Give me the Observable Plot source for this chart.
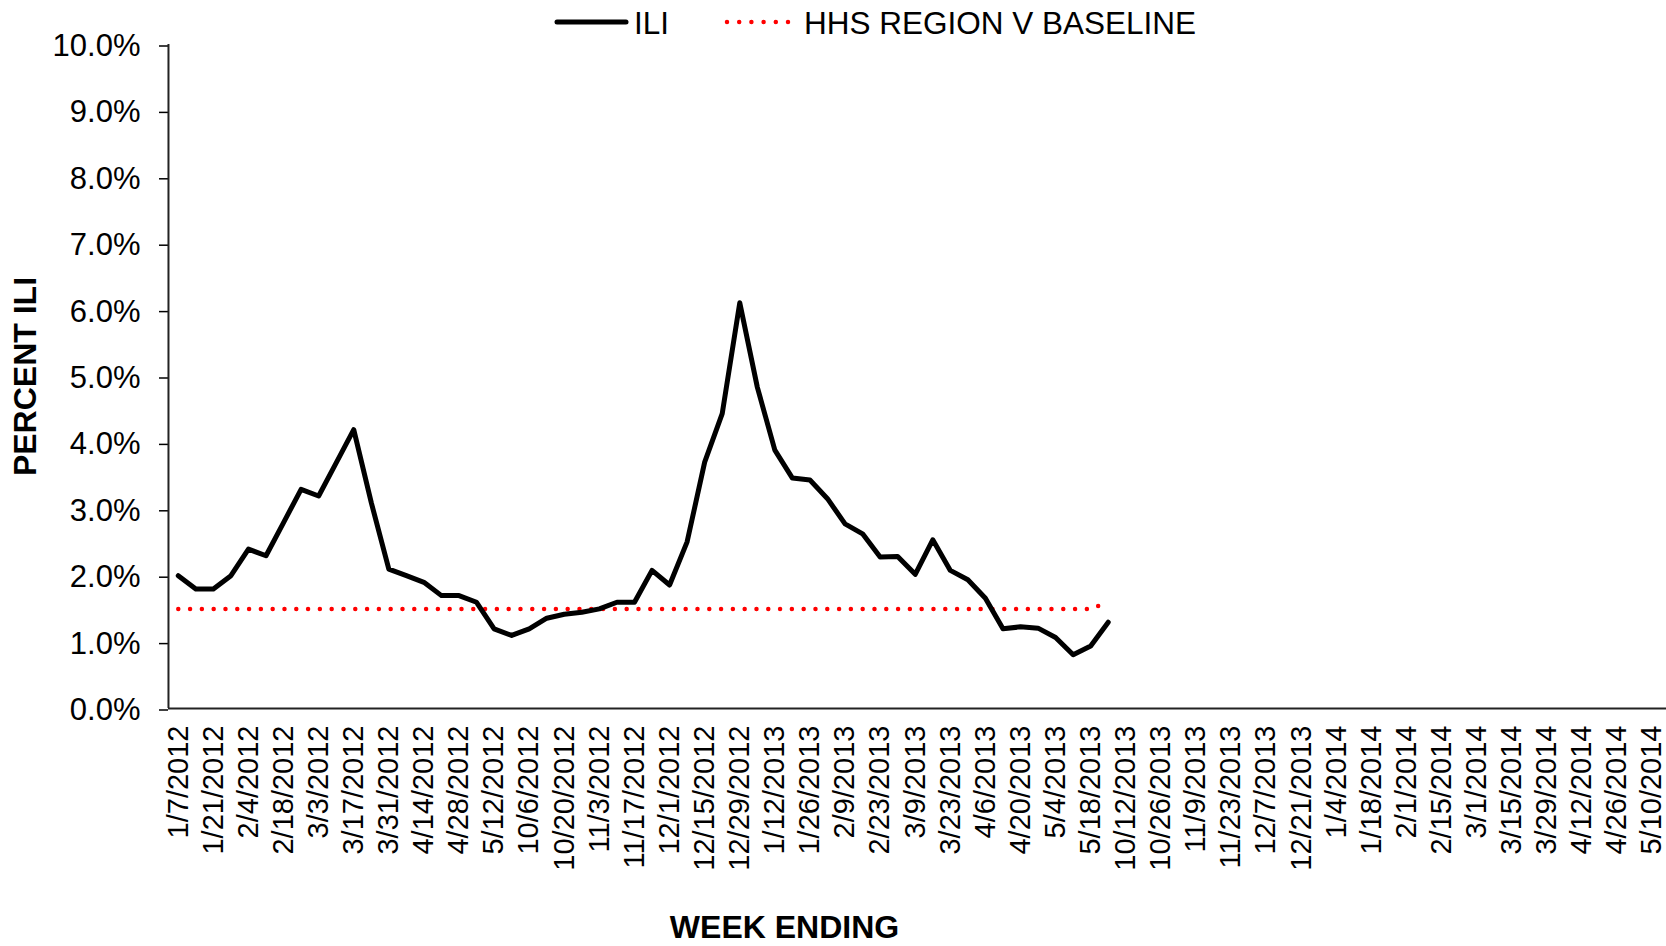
<!DOCTYPE html>
<html>
<head>
<meta charset="utf-8">
<script src="https://cdn.jsdelivr.net/npm/d3@7"></script>
<script src="https://cdn.jsdelivr.net/npm/@observablehq/plot@0.6"></script>
<style>
html, body { margin: 0; padding: 0; background: #fff; overflow: hidden; }
#wrap { position: relative; width: 1666px; height: 946px; font-family: "Liberation Sans", Arial, sans-serif; }
#legend { position: absolute; left: 0; top: 0; }
</style>
</head>
<body>
<div id="wrap">
  <div id="chart"></div>
  <svg id="legend" width="1666" height="44">
    <line x1="557" x2="626" y1="22" y2="22" stroke="#000" stroke-width="5" stroke-linecap="round"></line>
    <text x="634" y="33.5" font-size="31.5" font-family="Liberation Sans, Arial, sans-serif">ILI</text>
    <line x1="727" x2="789" y1="22" y2="22" stroke="#ff0000" stroke-width="4.5" stroke-linecap="round" stroke-dasharray="0 12.2"></line>
    <text x="804" y="33.5" font-size="31.5" font-family="Liberation Sans, Arial, sans-serif">HHS REGION V BASELINE</text>
  </svg>
</div>
<script>
// All weekly categories on the x axis (week ending dates)
const weeks = [
  "1/7/2012","1/14/2012","1/21/2012","1/28/2012","2/4/2012","2/11/2012","2/18/2012","2/25/2012",
  "3/3/2012","3/10/2012","3/17/2012","3/24/2012","3/31/2012","4/7/2012","4/14/2012","4/21/2012",
  "4/28/2012","5/5/2012","5/12/2012","5/19/2012",
  "10/6/2012","10/13/2012","10/20/2012","10/27/2012","11/3/2012","11/10/2012","11/17/2012","11/24/2012",
  "12/1/2012","12/8/2012","12/15/2012","12/22/2012","12/29/2012","1/5/2013","1/12/2013","1/19/2013",
  "1/26/2013","2/2/2013","2/9/2013","2/16/2013","2/23/2013","3/2/2013","3/9/2013","3/16/2013",
  "3/23/2013","3/30/2013","4/6/2013","4/13/2013","4/20/2013","4/27/2013","5/4/2013","5/11/2013",
  "5/18/2013","5/25/2013",
  "10/12/2013","10/19/2013","10/26/2013","11/2/2013","11/9/2013","11/16/2013","11/23/2013","11/30/2013",
  "12/7/2013","12/14/2013","12/21/2013","12/28/2013","1/4/2014","1/11/2014","1/18/2014","1/25/2014",
  "2/1/2014","2/8/2014","2/15/2014","2/22/2014","3/1/2014","3/8/2014","3/15/2014","3/22/2014",
  "3/29/2014","4/5/2014","4/12/2014","4/19/2014","4/26/2014","5/3/2014","5/10/2014","5/17/2014"
];

// Labeled ticks (every other week)
const xTickLabels = [
  "1/7/2012","1/21/2012","2/4/2012","2/18/2012","3/3/2012","3/17/2012","3/31/2012","4/14/2012",
  "4/28/2012","5/12/2012","10/6/2012","10/20/2012","11/3/2012","11/17/2012","12/1/2012","12/15/2012",
  "12/29/2012","1/12/2013","1/26/2013","2/9/2013","2/23/2013","3/9/2013","3/23/2013","4/6/2013",
  "4/20/2013","5/4/2013","5/18/2013","10/12/2013","10/26/2013","11/9/2013","11/23/2013","12/7/2013",
  "12/21/2013","1/4/2014","1/18/2014","2/1/2014","2/15/2014","3/1/2014","3/15/2014","3/29/2014",
  "4/12/2014","4/26/2014","5/10/2014"
];

// Percent ILI, weeks 1/7/2012 .. 5/25/2013
const iliValues = [
  2.0, 1.8, 1.8, 2.0, 2.4, 2.3, 2.8, 3.3, 3.2, 3.7,
  4.2, 3.1, 2.1, 2.0, 1.9, 1.7, 1.7, 1.6, 1.2, 1.1,
  1.2, 1.36, 1.42, 1.45, 1.5, 1.6, 1.6, 2.08, 1.86, 2.51,
  3.71, 4.44, 6.11, 4.84, 3.89, 3.47, 3.44, 3.16, 2.78, 2.63,
  2.28, 2.29, 2.02, 2.54, 2.08, 1.94, 1.66, 1.20, 1.23, 1.21,
  1.07, 0.81, 0.94, 1.30
];

// HHS Region V baseline
const baselineValues = [
  1.5, 1.5, 1.5, 1.5, 1.5, 1.5, 1.5, 1.5, 1.5, 1.5,
  1.5, 1.5, 1.5, 1.5, 1.5, 1.5, 1.5, 1.5, 1.5, 1.5,
  1.5, 1.5, 1.5, 1.5, 1.5, 1.5, 1.5, 1.5, 1.5, 1.5,
  1.5, 1.5, 1.5, 1.5, 1.5, 1.5, 1.5, 1.5, 1.5, 1.5,
  1.5, 1.5, 1.5, 1.5, 1.5, 1.5, 1.5, 1.5, 1.5, 1.5,
  1.5, 1.5, 1.5, 1.6
];

const yTicks = [0, 1, 2, 3, 4, 5, 6, 7, 8, 9, 10];

const iliData = iliValues.map((v, i) => ({week: weeks[i], value: v}));
const baseData = baselineValues.map((v, i) => ({week: weeks[i], value: v}));

const font = "Liberation Sans, Arial, sans-serif";

const chart = Plot.plot({
  width: 1666,
  height: 946,
  marginLeft: 168,
  marginRight: 0,
  marginTop: 44,
  marginBottom: 238,
  style: {fontFamily: font, background: "white", color: "black"},
  x: {type: "point", domain: weeks, range: [169, 1678], padding: 0.5},
  y: {domain: [0, 10]},
  marks: [
    Plot.axisY({
      ticks: yTicks, tickSize: 9, tickPadding: 19, fontSize: 31, dy: 1.5,
      tickFormat: d => d.toFixed(1) + "%", label: null, strokeWidth: 1.5
    }),
    Plot.axisX({
      ticks: xTickLabels, tickSize: 0, tickRotate: -90, tickPadding: 17,
      fontSize: 29, label: null
    }),
    Plot.ruleY([0], {stroke: "#222", strokeWidth: 2}),
    Plot.ruleX([weeks[0]], {y1: 0, y2: 10, dx: -9.8, stroke: "#222", strokeWidth: 2}),
    Plot.line(baseData, {
      x: "week", y: "value", stroke: "#ff0000", strokeWidth: 4.5,
      strokeDasharray: "0 11.8", strokeLinecap: "round"
    }),
    Plot.line(iliData, {
      x: "week", y: "value", stroke: "#000", strokeWidth: 5
    }),
    Plot.text(["PERCENT ILI"], {
      text: d => d, frameAnchor: "left", dx: -143, rotate: -90,
      fontSize: 32, fontWeight: "bold", textAnchor: "middle", lineAnchor: "middle"
    }),
    Plot.text(["WEEK ENDING"], {
      text: d => d, frameAnchor: "bottom", dx: -133, dy: 219,
      fontSize: 32, fontWeight: "bold", textAnchor: "middle", lineAnchor: "middle"
    })
  ]
});

document.getElementById("chart").appendChild(chart);
</script>
</body>
</html>
